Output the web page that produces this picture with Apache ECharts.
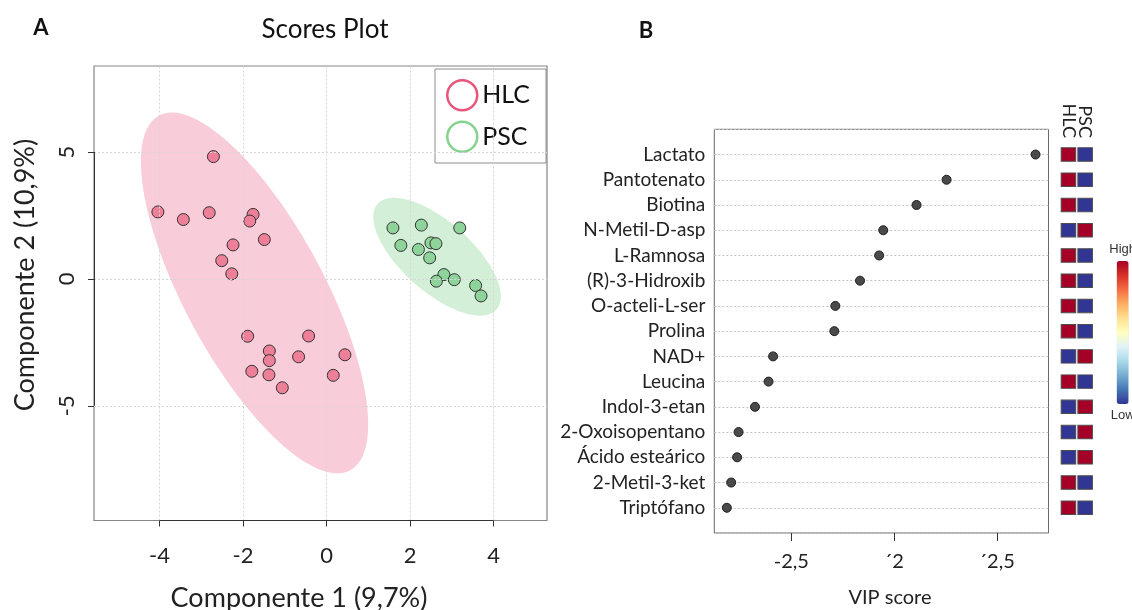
<!DOCTYPE html>
<html><head><meta charset="utf-8">
<script src="https://cdn.jsdelivr.net/npm/echarts@6/dist/echarts.min.js"></script>
<style>html,body{margin:0;padding:0;background:#fff}#c{width:1132px;height:610px}</style>
</head><body><div id="c"></div>
<script>
// ---------- Panel A: PCA scores ----------
const hlcPoints = [[-2.71,4.82],[-4.04,2.64],[-3.43,2.34],[-2.81,2.61],[-1.76,2.54],[-1.84,2.28],[-1.49,1.55],[-2.24,1.34],[-2.51,0.72],[-2.27,0.20],[-1.89,-2.26],[-0.43,-2.25],[-1.37,-2.84],[-1.37,-3.22],[-0.67,-3.07],[0.44,-2.99],[-1.79,-3.64],[-1.38,-3.78],[-1.06,-4.29],[0.16,-3.80]];
const pscPoints = [[1.59,2.01],[2.27,2.12],[3.19,2.01],[1.78,1.32],[2.50,1.42],[2.62,1.39],[2.20,1.16],[2.47,0.83],[2.81,0.17],[3.06,-0.03],[2.63,-0.09],[3.57,-0.26],[3.70,-0.67]];
// ellipse: [centerX, centerY, semiAxis1X, semiAxis1Y, semiAxis2X, semiAxis2Y]
const hlcEllipse = [-1.725,-0.553,2.291,-6.987,-1.469,-1.309];
const pscEllipse = [2.647,0.875,1.424,-2.080,-0.554,-1.029];
const xTicksA = [-4,-2,0,2,4];
const yTicksA = [-5,0,5];
const xRangeA = [-5.57,5.28];
const yRangeA = [-9.52,8.39];
const groupNames = ['HLC','PSC'];

// ---------- Panel B: VIP scores ----------
const metabolites = ['Lactato','Pantotenato','Biotina','N-Metil-D-asp','L-Ramnosa','(R)-3-Hidroxib','O-acteli-L-ser','Prolina','NAD+','Leucina','Indol-3-etan','2-Oxoisopentano','Ácido esteárico','2-Metil-3-ket','Triptófano'];
const vipScores = [2.688,2.255,2.109,1.947,1.927,1.834,1.714,1.709,1.411,1.389,1.323,1.243,1.236,1.207,1.186];
const hlcLevel = [1,1,1,0,1,1,1,1,0,1,0,0,0,1,1];
const pscLevel = [0,0,0,1,0,0,0,0,1,0,1,1,1,0,0];
const vipTicks = [1.5,2,2.5];
const vipTickLabels = ['-2,5','´2','´2,5'];
const vipRange = [1.125,2.751];

const FONT = 'Lato';
const rdylbu = ['#313695','#4575b4','#74add1','#abd9e9','#e0f3f8','#ffffbf','#fee090','#fdae61','#f46d43','#d73027','#a50026'];

function ellipseSeries(e, fill){
  return {
    type:'custom', xAxisIndex:0, yAxisIndex:0, z:1, silent:true,
    data:[[e[0],e[1]]],
    renderItem:function(params, api){
      const pts=[];
      for(let i=0;i<180;i++){
        const t=i/180*2*Math.PI;
        pts.push(api.coord([e[0]+Math.cos(t)*e[2]+Math.sin(t)*e[4], e[1]+Math.cos(t)*e[3]+Math.sin(t)*e[5]]));
      }
      return {type:'polygon', shape:{points:pts}, style:{fill:fill}};
    }
  };
}

const heatData = [];
metabolites.forEach((m,i)=>{ heatData.push([0,i+1,hlcLevel[i]]); heatData.push([1,i+1,pscLevel[i]]); });

const chart = echarts.init(document.getElementById('c'), null, {renderer:'canvas'});
const option = {
  animation:false,
  backgroundColor:'#fff',
  textStyle:{fontFamily:FONT},
  grid:[
    {left:94, top:66, width:453, height:454.5, show:true, borderColor:'#858585', borderWidth:1.2, backgroundColor:'transparent'},
    {left:714.3, top:129.3, width:334.2, height:403.7, show:true, borderColor:'#6a6a6a', borderWidth:1},
    {left:1060.1, top:141.9, width:33.4, height:378.5}
  ],
  xAxis:[
    {gridIndex:0, type:'value', min:xRangeA[0], max:xRangeA[1],
      axisLine:{show:false, onZero:false}, splitLine:{show:false},
      axisTick:{show:true, customValues:xTicksA, length:6, lineStyle:{color:'#333'}},
      axisLabel:{customValues:xTicksA, fontSize:22, color:'#222', margin:24, fontFamily:FONT}},
    {gridIndex:1, type:'value', min:vipRange[0], max:vipRange[1],
      axisLine:{show:false, onZero:false}, splitLine:{show:false},
      axisTick:{show:true, customValues:vipTicks, length:8, lineStyle:{color:'#333'}},
      axisLabel:{customValues:vipTicks, fontSize:20, color:'#222', margin:19, fontFamily:FONT,
        formatter:function(v){ const k=vipTicks.indexOf(v); return k>=0?vipTickLabels[k]:''; }}},
    {gridIndex:2, type:'category', data:groupNames, position:'top',
      axisLine:{show:false, onZero:false}, axisTick:{show:false}, splitLine:{show:false},
      axisLabel:{rotate:90, interval:0, hideOverlap:false, fontSize:18, color:'#222', margin:4, fontFamily:FONT}}
  ],
  yAxis:[
    {gridIndex:0, type:'value', min:yRangeA[0], max:yRangeA[1],
      axisLine:{show:false, onZero:false}, splitLine:{show:false},
      axisTick:{show:true, customValues:yTicksA, length:6, lineStyle:{color:'#333'}},
      axisLabel:{customValues:yTicksA, rotate:90, fontSize:22, color:'#222', margin:16, fontFamily:FONT}},
    {gridIndex:1, type:'value', min:0, max:16, interval:1, inverse:true,
      axisLine:{show:false, onZero:false}, axisTick:{show:false},
      splitLine:{show:true, lineStyle:{color:'#c4c4c4', type:[2,2], width:1}},
      axisLabel:{fontSize:19, color:'#222', margin:9, fontFamily:FONT,
        formatter:function(v){ return (v>=1 && v<=metabolites.length)?metabolites[v-1]:''; }}},
    {gridIndex:2, type:'value', min:0.5, max:15.5, inverse:true, show:false, axisLine:{onZero:false}}
  ],
  legend:{
    left:435, top:69, orient:'vertical', padding:[10,16,10,11], itemGap:9,
    itemWidth:30, itemHeight:30, backgroundColor:'#fff', borderColor:'#8c8c8c', borderWidth:1,
    textStyle:{fontSize:25, fontFamily:FONT, color:'#111'},
    selectedMode:false,
    data:[
      {name:'HLC', icon:'circle', itemStyle:{color:'#fff', borderColor:'#e8547a', borderWidth:2.5}},
      {name:'PSC', icon:'circle', itemStyle:{color:'#fff', borderColor:'#86d38f', borderWidth:2.5}}
    ]
  },
  visualMap:{
    show:true, type:'continuous', orient:'vertical', min:0, max:1, seriesIndex:8, dimension:2, calculable:false,
    inRange:{color:rdylbu},
    text:['High','Low'], textGap:5, itemWidth:12, itemHeight:143, right:-19, top:228,
    textStyle:{fontSize:13, color:'#333', fontFamily:'Liberation Sans'}
  },
  graphic:[
    {type:'text', x:41, y:28, style:{text:'A', fontSize:22, fontWeight:'bold', fontFamily:FONT, fill:'#111', textAlign:'center', textVerticalAlign:'middle'}},
    {type:'text', x:325, y:30, style:{text:'Scores Plot', fontSize:26, fontFamily:FONT, fill:'#111', textAlign:'center', textVerticalAlign:'middle'}},
    {type:'text', x:646, y:31, style:{text:'B', fontSize:22, fontWeight:'bold', fontFamily:FONT, fill:'#111', textAlign:'center', textVerticalAlign:'middle'}},
    {type:'text', x:299, y:598, style:{text:'Componente 1 (9,7%)', fontSize:27, fontFamily:FONT, fill:'#222', textAlign:'center', textVerticalAlign:'middle'}},
    {type:'text', x:25, y:275, rotation:Math.PI/2, style:{text:'Componente 2 (10,9%)', fontSize:27, fontFamily:FONT, fill:'#222', textAlign:'center', textVerticalAlign:'middle'}},
    {type:'text', x:890, y:598, style:{text:'VIP score', fontSize:20, fontFamily:FONT, fill:'#222', textAlign:'center', textVerticalAlign:'middle'}}
  ],
  series:[
    // 0: grid lines of panel A
    {type:'scatter', xAxisIndex:0, yAxisIndex:0, data:[], z:0, silent:true,
      markLine:{silent:true, symbol:'none', label:{show:false}, animation:false,
        lineStyle:{color:'#d6d6d6', type:[2,2], width:1},
        data:[...xTicksA.map(v=>({xAxis:v})), ...yTicksA.map(v=>({yAxis:v}))]}},
    // 1,2: ellipses
    ellipseSeries(hlcEllipse,'rgba(232,80,122,0.29)'),
    ellipseSeries(pscEllipse,'rgba(94,196,106,0.27)'),
    // 3: placeholder
    {type:'scatter', xAxisIndex:0, yAxisIndex:0, data:[], silent:true},
    // 4,5: points (HLC carries the R-style axis segments)
    {name:'HLC', type:'scatter', xAxisIndex:0, yAxisIndex:0, z:4, data:hlcPoints, symbolSize:12,
      itemStyle:{color:'#ee7f98', borderColor:'#333', borderWidth:1, opacity:1},
      markLine:{silent:true, symbol:'none', label:{show:false}, animation:false,
        lineStyle:{color:'#333', type:'solid', width:1},
        data:[
          [{coord:[xTicksA[0], yRangeA[0]+0.001]},{coord:[xTicksA[xTicksA.length-1], yRangeA[0]+0.001]}],
          [{coord:[xRangeA[0]+0.001, yTicksA[0]]},{coord:[xRangeA[0]+0.001, yTicksA[yTicksA.length-1]]}]
        ]}},
    {name:'PSC', type:'scatter', xAxisIndex:0, yAxisIndex:0, z:4, data:pscPoints, symbolSize:12,
      itemStyle:{color:'#8ed39a', borderColor:'#333', borderWidth:1, opacity:1}},
    // 6: placeholder
    {type:'scatter', xAxisIndex:1, yAxisIndex:1, data:[], silent:true},
    // 7: VIP dots
    {type:'scatter', xAxisIndex:1, yAxisIndex:1, z:4, symbolSize:9,
      data:vipScores.map((v,i)=>[v,i+1]),
      itemStyle:{color:'#4a4a4a', borderColor:'#1e1e1e', borderWidth:1, opacity:1}},
    // 8: heat squares
    {type:'scatter', xAxisIndex:2, yAxisIndex:2, z:4, symbol:'rect', symbolSize:[14.5,13.5],
      data:heatData, itemStyle:{borderColor:'#4d4d4d', borderWidth:1, opacity:1}}
  ]
};
chart.setOption(option);
</script></body></html>
